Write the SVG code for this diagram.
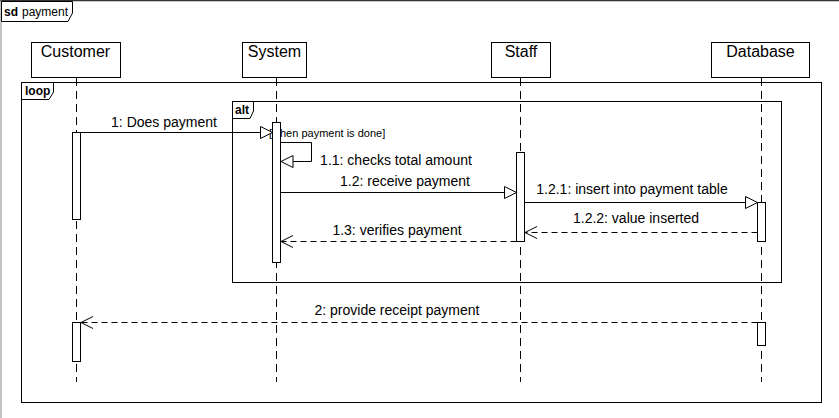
<svg xmlns="http://www.w3.org/2000/svg" width="839" height="418" viewBox="0 0 839 418">
<defs>
<style>
.frame{fill:none;stroke:#000;stroke-width:1}
.tab{fill:#fff;stroke:#000;stroke-width:1}
.box{fill:#fff;stroke:#000;stroke-width:1}
.life{stroke:#000;stroke-width:1;stroke-dasharray:8,5;fill:none}
.act{fill:#fff;stroke:#000;stroke-width:1}
.msg{stroke:#000;stroke-width:1;fill:none}
.ret{stroke:#000;stroke-width:1;fill:none;stroke-dasharray:6,4}
.name{font-family:"Liberation Sans",Arial,sans-serif;font-size:16px;fill:#000;text-anchor:middle}
.lbl{font-family:"Liberation Sans",Arial,sans-serif;font-size:14px;fill:#000;text-anchor:middle}
.kw{font-family:"Liberation Sans",Arial,sans-serif;font-size:12px;font-weight:bold;fill:#000}
.guard{font-family:"Liberation Sans",Arial,sans-serif;font-size:11px;fill:#000}
</style>
<marker id="tri" viewBox="0 0 14 14" refX="13" refY="7" markerWidth="14" markerHeight="14" markerUnits="userSpaceOnUse" orient="auto">
<path d="M1,1 L13,7 L1,13 Z" fill="#fff" stroke="#000" stroke-width="1"/>
</marker>
<marker id="open" viewBox="0 0 14 14" refX="13" refY="7" markerWidth="14" markerHeight="14" markerUnits="userSpaceOnUse" orient="auto">
<path d="M1,1 L13,7 L1,13" fill="none" stroke="#000" stroke-width="1"/>
</marker>
</defs>
<rect width="839" height="418" fill="#fff"/>

<g id="frame-sd">
<line x1="0" y1="0.5" x2="839" y2="0.5" stroke="#333" stroke-width="1.5"/>
<line x1="1" y1="0" x2="1" y2="418" stroke="#888" stroke-width="1"/>
<path class="tab" d="M1.5,1.5 H72.5 V13 L68,21.5 H1.5 Z"/>
<text x="4" y="16" class="kw">sd</text>
<text x="22" y="16" class="guard" style="font-size:12px">payment</text>
</g>

<g id="frame-loop">
<rect class="frame" x="21.5" y="82.5" width="800" height="320"/>
<path class="tab" d="M21.5,82.5 H53.5 V92 L49,99.5 H21.5 Z"/>
<text x="25" y="95" class="kw">loop</text>
</g>

<g id="frame-alt">
<rect class="frame" x="232.5" y="101.5" width="549" height="181"/>
<path class="tab" d="M232.5,101.5 H253.5 V111 L250,118.5 H232.5 Z"/>
<text x="235" y="114" class="kw">alt</text>
<text x="269" y="137" class="guard">[when payment is done]</text>
</g>

<g id="customer">
<rect class="box" x="31.5" y="42.5" width="89" height="35"/>
<text x="75.5" y="57" class="name">Customer</text>
<line class="life" x1="76.5" y1="78" x2="76.5" y2="382"/>
<rect class="act" x="72.5" y="132.5" width="8" height="87"/>
<rect class="act" x="72.5" y="322.5" width="8" height="39"/>
</g>

<g id="system">
<rect class="box" x="242.5" y="42.5" width="64" height="35"/>
<text x="274.5" y="57" class="name">System</text>
<line class="life" x1="276.5" y1="78" x2="276.5" y2="382"/>
</g>

<g id="staff">
<rect class="box" x="491.5" y="42.5" width="59" height="35"/>
<text x="521" y="57" class="name">Staff</text>
<line class="life" x1="520.5" y1="78" x2="520.5" y2="382"/>
<rect class="act" x="516.5" y="152.5" width="8" height="89"/>
</g>

<g id="database">
<rect class="box" x="711.5" y="42.5" width="98" height="35"/>
<text x="760.5" y="57" class="name">Database</text>
<line class="life" x1="761.5" y1="78" x2="761.5" y2="382"/>
<rect class="act" x="757.5" y="202.5" width="8" height="39"/>
<rect class="act" x="757.5" y="322.5" width="8" height="23"/>
</g>

<g id="system-act">
<rect class="act" x="272.5" y="122.5" width="8" height="140"/>
</g>

<g id="connectors">
<line class="msg" x1="80.5" y1="132.5" x2="272.5" y2="132.5" marker-end="url(#tri)"/>
<text x="164" y="127" class="lbl">1: Does payment</text>
<path class="msg" d="M280.5,142.5 H311.5 V161.5 H281" marker-end="url(#tri)"/>
<text x="396" y="165" class="lbl">1.1: checks total amount</text>
<line class="msg" x1="280.5" y1="192.5" x2="516.5" y2="192.5" marker-end="url(#tri)"/>
<text x="405" y="186" class="lbl">1.2: receive payment</text>
<line class="msg" x1="524.5" y1="202.5" x2="757.5" y2="202.5" marker-end="url(#tri)"/>
<text x="632" y="194" class="lbl">1.2.1: insert into payment table</text>
<line class="ret" x1="757.5" y1="232.5" x2="525" y2="232.5" marker-end="url(#open)"/>
<text x="636" y="223" class="lbl">1.2.2: value inserted</text>
<line class="ret" x1="516.5" y1="241.5" x2="281" y2="241.5" marker-end="url(#open)"/>
<text x="397" y="235" class="lbl">1.3: verifies payment</text>
<line class="ret" x1="757.5" y1="322.5" x2="81" y2="322.5" marker-end="url(#open)"/>
<text x="397" y="315" class="lbl">2: provide receipt payment</text>
</g>
</svg>
